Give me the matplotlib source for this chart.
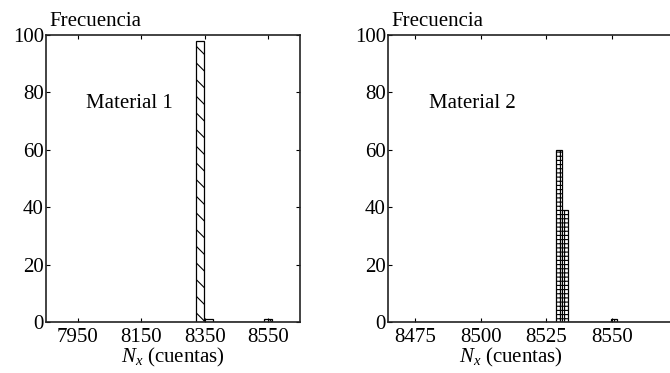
import numpy as np
import matplotlib
matplotlib.use("Agg")
import matplotlib.pyplot as plt

# Material 1: histograma (9 clases entre min y max)
rango1 = (8322, 8562)
frec1 = [98, 1, 0, 0, 0, 0, 0, 0, 1]
ticks1 = [7950, 8150, 8350, 8550]

# Material 2: histograma (10 clases entre min y max)
rango2 = (8528.6, 8551.8)
frec2 = [60, 39, 0, 0, 0, 0, 0, 0, 0, 1]
ticks2 = [8475, 8500, 8525, 8550]

yticks = [0, 20, 40, 60, 80, 100]

plt.rcParams['font.family'] = ['Liberation Serif', 'DejaVu Serif']
plt.rcParams['mathtext.fontset'] = 'custom'
plt.rcParams['mathtext.rm'] = 'Liberation Serif'
plt.rcParams['mathtext.it'] = 'Liberation Serif:italic'
plt.rcParams['font.size'] = 15
plt.rcParams['hatch.linewidth'] = 0.8

fig = plt.figure(figsize=(6.7, 3.73), dpi=100)
ax1 = fig.add_axes([46 / 670, 51 / 373, 254 / 670, 287 / 373])
ax2 = fig.add_axes([388 / 670, 51 / 373, 315 / 670, 287 / 373])


def dibujar(ax, rango, frec, ticks, xlim, patron, nombre, nombre_x, label_x):
    bordes = np.linspace(rango[0], rango[1], len(frec) + 1)
    ax.bar(bordes[:-1], frec, width=np.diff(bordes), align='edge',
           color='white', edgecolor='black', linewidth=0.9, hatch=patron)
    ax.set_xlim(xlim)
    ax.set_ylim(0, 100)
    ax.set_xticks(ticks)
    ax.set_yticks(yticks)
    ax.tick_params(direction='in', top=True, right=True, length=3, width=0.8)
    ax.tick_params(axis='x', pad=4)
    ax.tick_params(axis='y', pad=1.5)
    for s in ax.spines.values():
        s.set_color('#222222')
        s.set_linewidth(1.2)
    # textos
    ax.text(0.012, 1.031, 'Frecuencia', transform=ax.transAxes, va='baseline')
    ax.text(nombre_x, 0.746, nombre, transform=ax.transAxes, va='baseline')
    ax.set_xlabel('$N_x$ (cuentas)')
    ax.xaxis.set_label_coords(label_x, -0.085)


dibujar(ax1, rango1, frec1, ticks1, (7850, 8650), '\\\\', 'Material 1', 0.157, 0.5)
dibujar(ax2, rango2, frec2, ticks2, (8464.7, 8584.6), '++++', 'Material 2', 0.130, 0.39)

plt.savefig('out.png', dpi=100)
